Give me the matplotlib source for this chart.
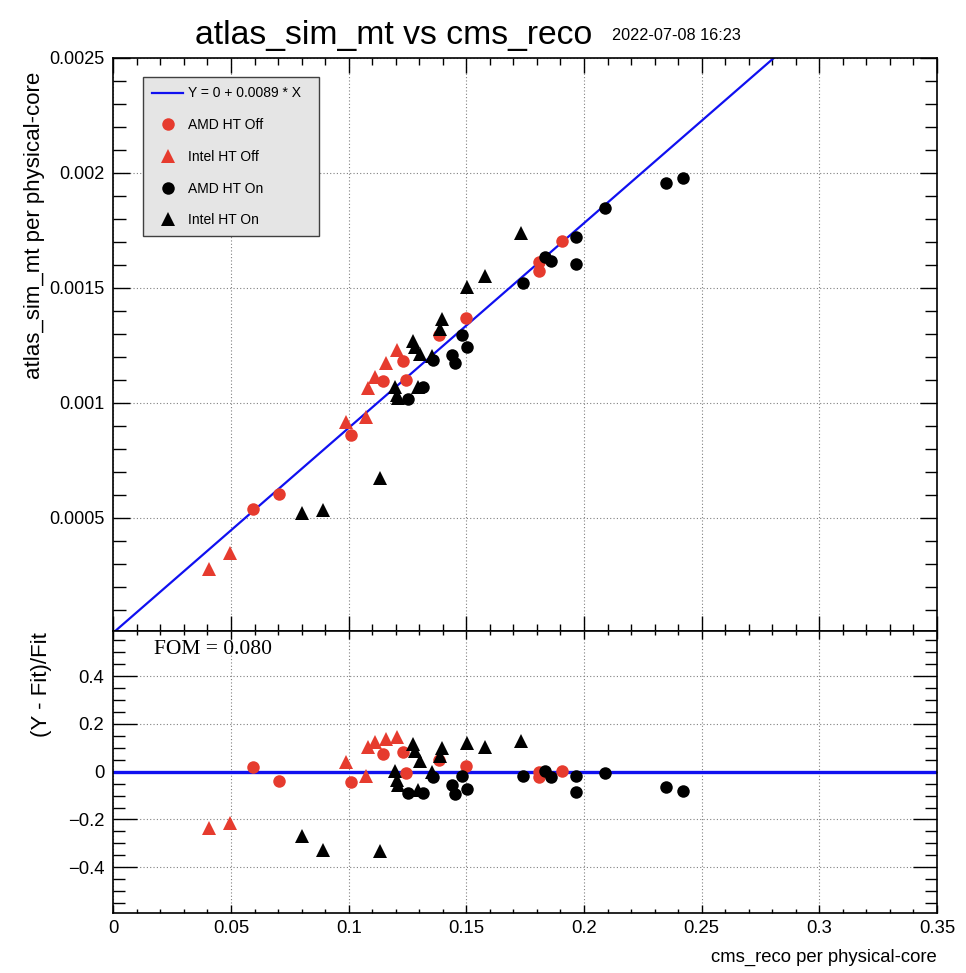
# atlas_sim_mt vs cms_reco, per physical core, with ratio pad below

import matplotlib
matplotlib.use("Agg")
import matplotlib.pyplot as plt
import matplotlib.font_manager as fm
from matplotlib.ticker import MultipleLocator, FuncFormatter
from matplotlib.lines import Line2D

slope = 0.0089
fom = 0.080

# values (x = cms_reco, y = atlas_sim_mt)
amd_off_x = [0.0592, 0.0705, 0.1010, 0.1145, 0.1230, 0.1244, 0.1385, 0.1499, 0.1810, 0.1810, 0.1905]
amd_off_y = [0.000537, 0.000602, 0.000860, 0.001094, 0.001183, 0.001099, 0.001294, 0.001368, 0.001612, 0.001572, 0.001703]

intel_off_x = [0.0408, 0.0496, 0.0989, 0.1074, 0.1083, 0.1112, 0.1159, 0.1205]
intel_off_y = [0.000277, 0.000347, 0.000917, 0.000937, 0.001063, 0.001113, 0.001171, 0.001229]

amd_on_x = [0.1253, 0.1317, 0.1360, 0.1438, 0.1452, 0.1480, 0.1504, 0.1740, 0.1834, 0.1859,
            0.1966, 0.1966, 0.2091, 0.2348, 0.2422]
amd_on_y = [0.001015, 0.001067, 0.001186, 0.001207, 0.001171, 0.001294, 0.001243, 0.001522, 0.001635, 0.001617,
            0.001719, 0.001603, 0.001848, 0.001954, 0.001978]

intel_on_x = [0.0801, 0.0892, 0.1133, 0.1197, 0.1204, 0.1211, 0.1275, 0.1282, 0.1296, 0.1303,
              0.1353, 0.1388, 0.1395, 0.1504, 0.1579, 0.1731]
intel_on_y = [0.000522, 0.000534, 0.000673, 0.001069, 0.001034, 0.001019, 0.001267, 0.001240, 0.001067, 0.001213,
              0.001203, 0.001318, 0.001363, 0.001502, 0.001552, 0.001739]

red = "#e63b2e"
blue = "#1010f0"
plain = ["Liberation Sans", "DejaVu Sans"]

# the reference text is narrow; use a narrow face if there is one, else shrink the plain one
installed = {f.name for f in fm.fontManager.ttflist}
if "Liberation Sans Narrow" in installed:
    narrow, k = ["Liberation Sans Narrow", "Liberation Sans"], 1.0
else:
    narrow, k = plain, 0.81

W, H = 966, 973
fig = plt.figure(figsize=(W / 100, H / 100), dpi=100)

def box(l, t, r, b):
    return [l / W, 1 - b / H, (r - l) / W, (b - t) / H]

ax1 = fig.add_axes(box(113.3, 57.5, 937, 630.7))
ax2 = fig.add_axes(box(113.3, 630.7, 937, 912.7))

series = [
    (amd_off_x, amd_off_y, red, "o", 9.0, "AMD HT Off"),
    (intel_off_x, intel_off_y, red, "^", 9.5, "Intel HT Off"),
    (amd_on_x, amd_on_y, "black", "o", 9.0, "AMD HT On"),
    (intel_on_x, intel_on_y, "black", "^", 9.5, "Intel HT On"),
]

ax1.plot([0, 0.35], [0, slope * 0.35], color=blue, lw=1.6, zorder=2)
ax2.axhline(0, color=blue, lw=2.4, zorder=2)

handles = [Line2D([], [], color=blue, lw=1.6, label="Y = 0 + %.4f * X" % slope)]
for i, (xs, ys, c, m, ms, lab) in enumerate(series):
    ax1.plot(xs, ys, ls="none", marker=m, ms=ms, color=c, mew=0, zorder=3 + i)
    res = [y / (slope * x) - 1 for x, y in zip(xs, ys)]
    ax2.plot(xs, res, ls="none", marker=m, ms=ms, color=c, mew=0, zorder=3 + i)
    handles.append(Line2D([], [], ls="none", marker=m, ms=ms, color=c, mew=0, label=lab))

ax1.set_xlim(0, 0.35)
ax1.set_ylim(0.0000087, 0.0025)
ax2.set_xlim(0, 0.35)
ax2.set_ylim(-0.59, 0.59)

grid_kw = dict(color="#808080", linestyle=(0, (1, 2)), lw=0.8)
for ax in (ax1, ax2):
    ax.xaxis.set_major_locator(MultipleLocator(0.05))
    ax.xaxis.set_minor_locator(MultipleLocator(0.01))
    ax.grid(True, which="major", **grid_kw)
    ax.set_axisbelow(True)
    for s in ax.spines.values():
        s.set_linewidth(1.2)
    ax.tick_params(which="both", direction="in", top=True, right=True, width=1)

ax1.yaxis.set_major_locator(MultipleLocator(0.0005))
ax1.yaxis.set_minor_locator(MultipleLocator(0.0001))
ax1.yaxis.set_major_formatter(FuncFormatter(lambda v, p: "%g" % v))
ax1.tick_params(axis="x", which="major", length=10.8, labelbottom=False)
ax1.tick_params(axis="x", which="minor", length=5.3)
ax1.tick_params(axis="y", which="major", length=12, pad=6.5, labelsize=13)
ax1.tick_params(axis="y", which="minor", length=9)

ax2.yaxis.set_major_locator(MultipleLocator(0.2))
ax2.yaxis.set_minor_locator(MultipleLocator(0.05))
ax2.yaxis.set_major_formatter(FuncFormatter(lambda v, p: ("%g" % round(v, 2)).replace("-", "\u2212")))
ax2.xaxis.set_major_formatter(FuncFormatter(lambda v, p: "%g" % round(v, 2)))
ax2.tick_params(axis="x", which="major", length=5.8, pad=5, labelsize=16.5 * k)
ax2.tick_params(axis="x", which="minor", length=3)
ax2.tick_params(axis="y", which="major", length=17, pad=6.5, labelsize=13.3)
ax2.tick_params(axis="y", which="minor", length=8.6)

for lab in ax1.get_yticklabels() + ax2.get_yticklabels():
    lab.set_family(plain)
for lab in ax2.get_xticklabels():
    lab.set_family(narrow)

leg = ax1.legend(handles=handles, loc="upper left", bbox_to_anchor=(0.0364, 0.5, 0.2137, 0.4655),
                 mode="expand", borderaxespad=0, prop={"family": narrow, "size": 12.3 * k},
                 handlelength=2.2, handletextpad=0.4, labelspacing=1.28, borderpad=0.66,
                 fancybox=False, framealpha=1, facecolor="#e5e5e5", edgecolor="#404040")
leg.get_frame().set_linewidth(1.0)

fig.text(195 / W, 1 - 44 / H, "atlas_sim_mt vs cms_reco", family=narrow, size=30 * k, va="baseline", ha="left")
fig.text(612 / W, 1 - 40 / H, "2022-07-08 16:23", family=narrow, size=14.5 * k, va="baseline", ha="left")
fig.text(35 / W, 1 - 71.7 / H, "atlas_sim_mt per physical-core", family=plain, size=16,
         rotation=90, ha="center", va="top")
fig.text(42 / W, 1 - 632 / H, "(Y - Fit)/Fit", family=plain, size=16, rotation=90, ha="center", va="top")
fig.text(937 / W, 1 - 962 / H, "cms_reco per physical-core", family=narrow, size=16.5 * k, ha="right", va="baseline")
fig.text(154 / W, 1 - 650 / H, "FOM = %.3f" % fom, family=["Liberation Serif", "DejaVu Serif"], size=15.5,
         ha="left", va="center")

fig.savefig("out.png", dpi=100)
